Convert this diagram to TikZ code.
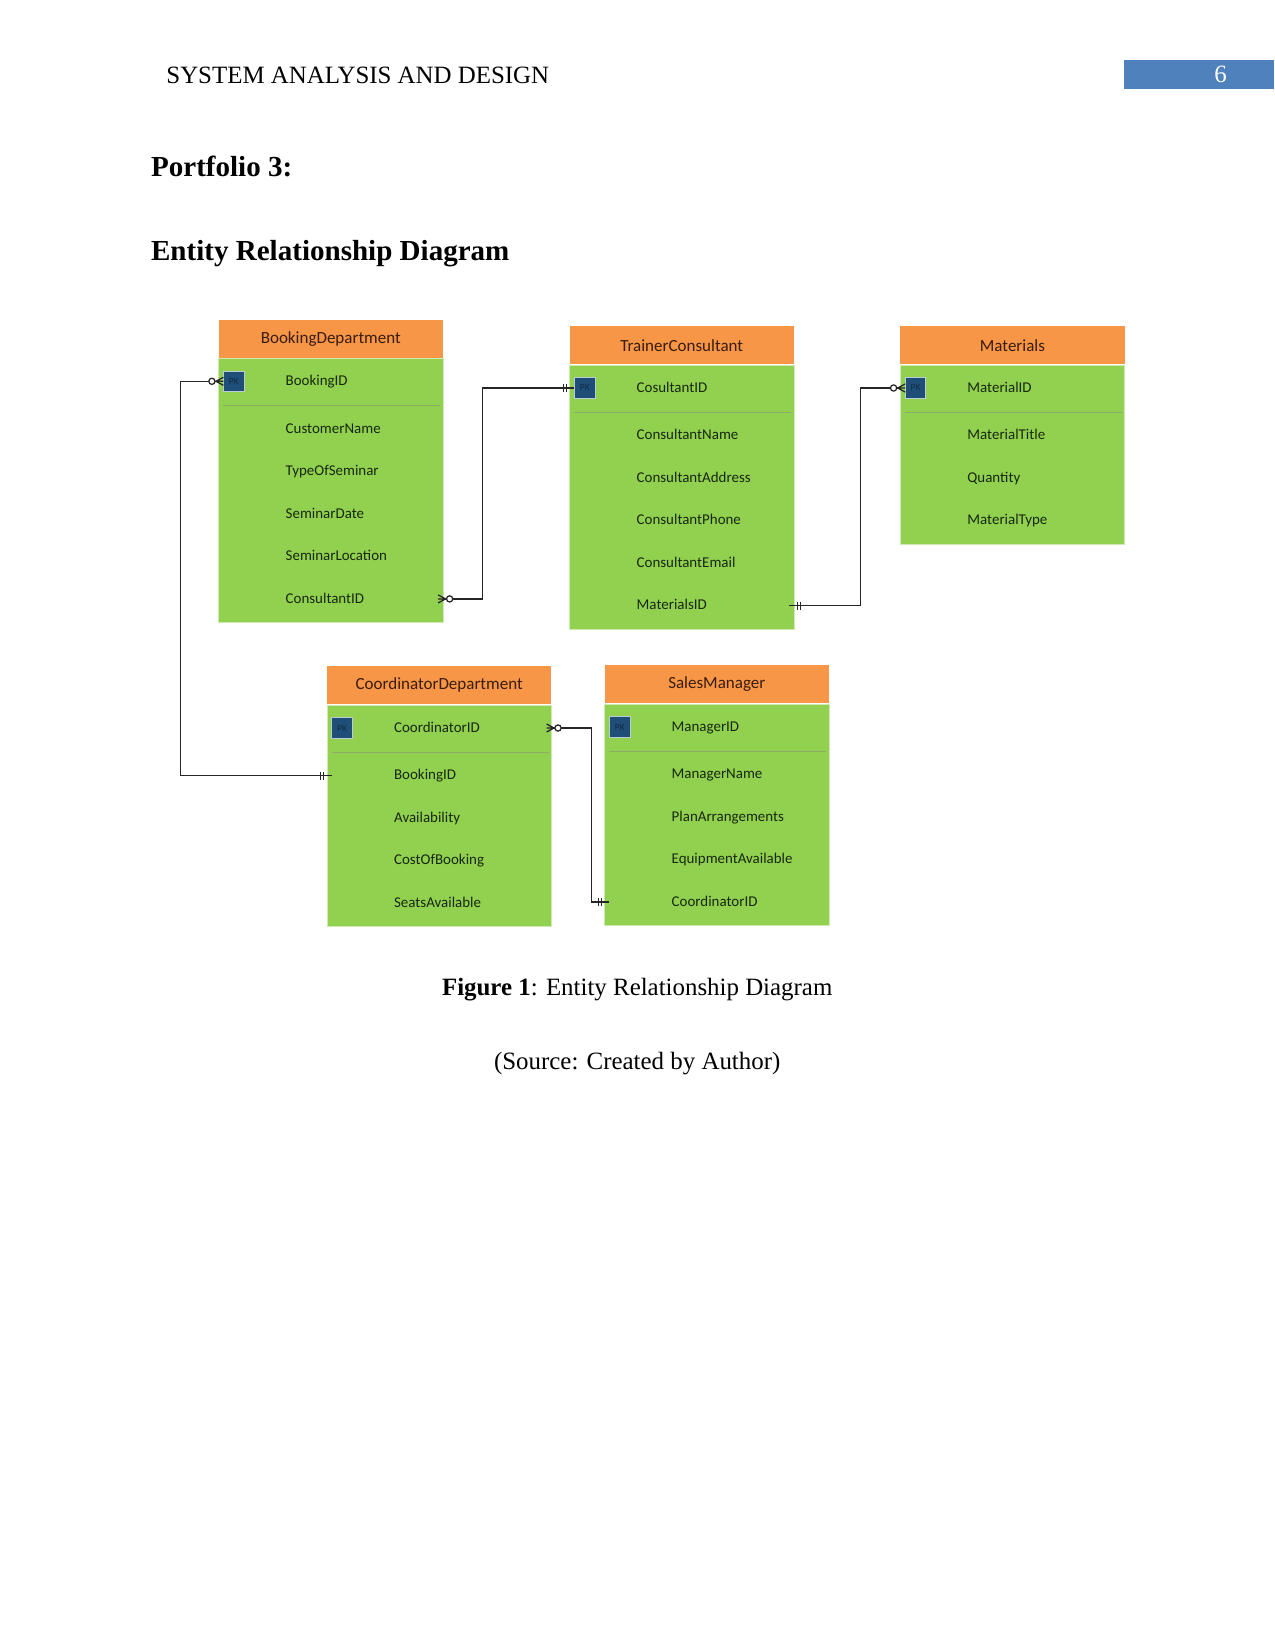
\documentclass[tikz,border=0pt]{standalone}
\usepackage{fontspec}
\setmainfont{Liberation Serif}
\newfontfamily\erfont{Carlito}
\usetikzlibrary{positioning}
\definecolor{headorange}{HTML}{F79646}
\definecolor{bodygreen}{HTML}{92D050}
\definecolor{pkblue}{HTML}{1F4E79}
\definecolor{pagebar}{HTML}{4F81BD}
\definecolor{fieldink}{RGB}{22,40,12}
\definecolor{titleink}{RGB}{58,28,12}
\begin{document}
\begin{tikzpicture}[x=0.0169333cm,y=-0.0169333cm,
  page/.style={font=\fontsize{12}{14}\selectfont,inner sep=0pt},
  heading/.style={font=\fontsize{14}{16}\selectfont\bfseries,anchor=base west,inner sep=0pt},
  enthead/.style={fill=headorange,anchor=north west,minimum width=108pt,minimum height=18.24pt,
    inner sep=0pt,text=titleink,font=\erfont\fontsize{8.2}{10}\selectfont},
  entbody/.style={fill=bodygreen,draw=white!55!bodygreen,line width=.3pt,minimum width=108pt,inner sep=0pt},
  field/.style={anchor=west,inner sep=0pt,text height=.5em,text depth=.1em,text=fieldink,
    font=\erfont\fontsize{7.2}{9}\selectfont},
  pkbox/.style={fill=pkblue,draw=white!70!pkblue,line width=.4pt,minimum size=10pt,inner sep=0pt,
    text=pkblue!55!black,font=\erfont\fontsize{4.5}{5}\selectfont},
  sepline/.style={draw=gray!45!bodygreen,line width=.4pt},
  rel/.style={draw=black!85,line width=.6pt},
  zeromany/.pic={
   \draw[rel] (-5,-4)--(2.5,0)--(-5,4) (-5,0)--(2.5,0);
   \draw[rel,fill=white] (6.5,0) circle[radius=1.5pt];},
  onlyone/.pic={
   \draw[rel] (-5,0)--(0,0) (3,-4)--(3,4) (6,-4)--(6,4);}]
\useasboundingbox (0,0) rectangle (1275,1651);
% page header
\node[page,anchor=base west] (runhead) at (166,83.3) {SYSTEM ANALYSIS AND DESIGN};
\node[fill=pagebar,anchor=north west,minimum width=72pt,minimum height=13.92pt,inner sep=0pt] (pagebox) at (1124,60) {};
\node[page,text=white,anchor=base] (pagenum) at (1220.7,82.3) {6};
\node[heading] (portfolio) at (150.7,176.7) {Portfolio 3:};
\node[heading] (erdtitle) at (150.7,260.7) {Entity Relationship Diagram};
% entities
\begin{scope}[shift={(218.3,319.3)}]
 \node[enthead] (bd) at (0,0) {BookingDepartment};
 \node[entbody,minimum height=127.2pt,below=0pt of bd] (bd-body) {};
 \node[pkbox] (bd-pk) at (15.5,62) {PK};
 \node[field] (bd-0) at (67,62) {BookingID};
 \draw[sepline] (5,86)--(222,86);
 \foreach \f [count=\i] in {CustomerName,TypeOfSeminar,SeminarDate,SeminarLocation,ConsultantID}
  \node[field] (bd-\i) at (67,67.1+42.5*\i) {\f};
\end{scope}
\begin{scope}[shift={(569.3,326)}]
 \node[enthead] (tc) at (0,0) {TrainerConsultant};
 \node[entbody,minimum height=127.2pt,below=0pt of tc] (tc-body) {};
 \node[pkbox] (tc-pk) at (15.5,62) {PK};
 \node[field] (tc-0) at (67,62) {CosultantID};
 \draw[sepline] (5,86)--(222,86);
 \foreach \f [count=\i] in {ConsultantName,ConsultantAddress,ConsultantPhone,ConsultantEmail,MaterialsID}
  \node[field] (tc-\i) at (67,67.1+42.5*\i) {\f};
\end{scope}
\begin{scope}[shift={(900,326)}]
 \node[enthead] (mt) at (0,0) {Materials};
 \node[entbody,minimum height=86.4pt,below=0pt of mt] (mt-body) {};
 \node[pkbox] (mt-pk) at (15.5,62) {PK};
 \node[field] (mt-0) at (67,62) {MaterialID};
 \draw[sepline] (5,86)--(222,86);
 \foreach \f [count=\i] in {MaterialTitle,Quantity,MaterialType}
  \node[field] (mt-\i) at (67,67.1+42.5*\i) {\f};
\end{scope}
\begin{scope}[shift={(326.7,666)}]
 \node[enthead] (cd) at (0,0) {CoordinatorDepartment};
 \node[entbody,minimum height=106.8pt,below=0pt of cd] (cd-body) {};
 \node[pkbox] (cd-pk) at (15.5,62) {PK};
 \node[field] (cd-0) at (67,62) {CoordinatorID};
 \draw[sepline] (5,86)--(222,86);
 \foreach \f [count=\i] in {BookingID,Availability,CostOfBooking,SeatsAvailable}
  \node[field] (cd-\i) at (67,67.1+42.5*\i) {\f};
\end{scope}
\begin{scope}[shift={(604.3,665)}]
 \node[enthead] (sm) at (0,0) {SalesManager};
 \node[entbody,minimum height=106.8pt,below=0pt of sm] (sm-body) {};
 \node[pkbox] (sm-pk) at (15.5,62) {PK};
 \node[field] (sm-0) at (67,62) {ManagerID};
 \draw[sepline] (5,86)--(222,86);
 \foreach \f [count=\i] in {ManagerName,PlanArrangements,EquipmentAvailable,CoordinatorID}
  \node[field] (sm-\i) at (67,67.1+42.5*\i) {\f};
\end{scope}
% relationships
\draw[rel] (bd-body.east |- bd-5) -- ++(39.4,0) |- (tc-body.west |- tc-0);
\draw[rel] (tc-body.east |- tc-5) -- ++(66.7,0) |- (mt-body.west |- mt-0);
\draw[rel] (bd-body.west |- bd-0) -- ++(-37.6,0) |- (cd-body.west |- cd-1);
\draw[rel] (cd-body.east |- cd-0) -- ++(40.3,0) |- (sm-body.west |- sm-4);
\pic at (bd-body.east |- bd-5) {zeromany};
\pic[rotate=180] at (tc-body.west |- tc-0) {onlyone};
\pic at (tc-body.east |- tc-5) {onlyone};
\pic[rotate=180] at (mt-body.west |- mt-0) {zeromany};
\pic[rotate=180] at (bd-body.west |- bd-0) {zeromany};
\pic[rotate=180] at (cd-body.west |- cd-1) {onlyone};
\pic at (cd-body.east |- cd-0) {zeromany};
\pic[rotate=180] at (sm-body.west |- sm-4) {onlyone};
% caption
\node[page,anchor=base] (caption) at (637.2,995) {\textbf{Figure 1}: Entity Relationship Diagram};
\node[page,anchor=base] (source) at (637.2,1069.3) {(Source: Created by Author)};
\end{tikzpicture}
\end{document}
